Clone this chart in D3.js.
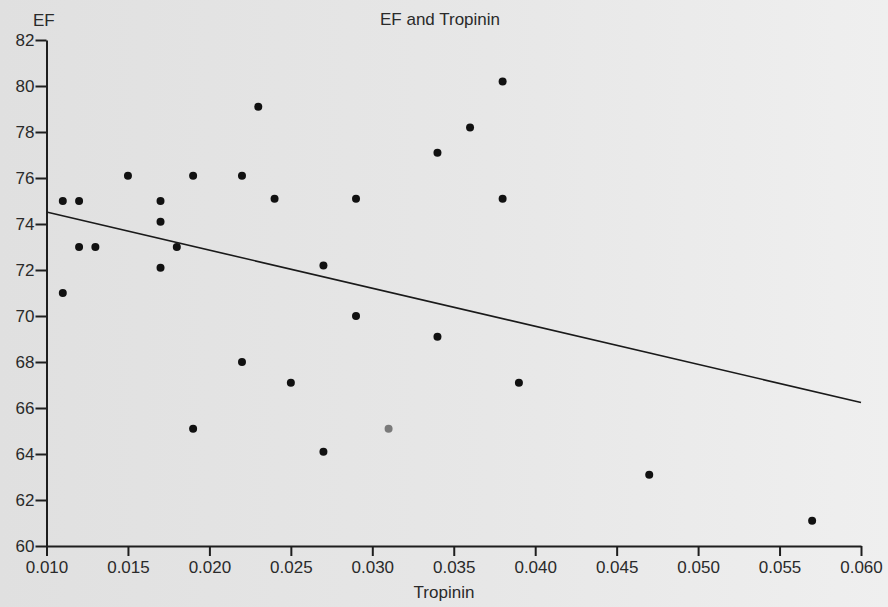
<!DOCTYPE html>
<html>
<head>
<meta charset="utf-8">
<script src="https://cdn.jsdelivr.net/npm/d3@7"></script>
<style>
  html, body { margin: 0; padding: 0; background: #e6e6e6; }
  svg { display: block; }
  text { font-family: "Liberation Sans", Arial, sans-serif; fill: #2a2a2a; }
</style>
</head>
<body>
<svg width="888" height="607"></svg>
<script>
const svg_width = 888;
const svg_height = 607;

// tropinin values (x) and EF values (y)
const tropinin = [
  0.011, 0.011, 0.012, 0.012, 0.013, 0.015, 0.017, 0.017, 0.017, 0.018,
  0.019, 0.019, 0.022, 0.022, 0.023, 0.024, 0.025, 0.027, 0.027, 0.029,
  0.029, 0.031, 0.034, 0.034, 0.036, 0.038, 0.038, 0.039, 0.047, 0.057
];
const ef = [
  71.0, 75.0, 75.0, 73.0, 73.0, 76.1, 75.0, 74.1, 72.1, 73.0,
  76.1, 65.1, 76.1, 68.0, 79.1, 75.1, 67.1, 72.2, 64.1, 75.1,
  70.0, 65.1, 77.1, 69.1, 78.2, 80.2, 75.1, 67.1, 63.1, 61.1
];
// one point (0.031, 65.1) is printed lighter in the original
const grey_point = [21];

// fitted line, end points
const fit_x = [0.010, 0.060];
const fit_y = [74.52, 66.24];

const x_ticks = [0.010, 0.015, 0.020, 0.025, 0.030, 0.035, 0.040, 0.045, 0.050, 0.055, 0.060];
const y_ticks = [60, 62, 64, 66, 68, 70, 72, 74, 76, 78, 80, 82];

const margin = { top: 40, right: 27, bottom: 61, left: 46.5 };
const font_size = "17px";

function drawChart() {
  const svg = d3.select("svg");

  // scanned paper look: slightly darker on the left
  const defs = svg.append("defs");
  const grad = defs.append("linearGradient").attr("id", "paper");
  grad.append("stop").attr("offset", "0%").attr("stop-color", "#e0e0e0");
  grad.append("stop").attr("offset", "55%").attr("stop-color", "#e7e7e7");
  grad.append("stop").attr("offset", "100%").attr("stop-color", "#efefef");
  svg.append("rect")
    .attr("width", svg_width)
    .attr("height", svg_height)
    .attr("fill", "url(#paper)");

  const x = d3.scaleLinear()
    .domain([0.010, 0.060])
    .range([margin.left, svg_width - margin.right]);
  const y = d3.scaleLinear()
    .domain([60, 82])
    .range([svg_height - margin.bottom, margin.top]);

  const x_axis = svg.append("g")
    .attr("transform", `translate(0,${svg_height - margin.bottom})`)
    .call(d3.axisBottom(x).tickValues(x_ticks).tickFormat(d3.format(".3f")).tickSize(10).tickSizeOuter(0));
  const y_axis = svg.append("g")
    .attr("transform", `translate(${margin.left},0)`)
    .call(d3.axisLeft(y).tickValues(y_ticks).tickSize(11).tickSizeOuter(0));

  // style both axes like the print
  [x_axis, y_axis].forEach(function (a) {
    a.select(".domain").attr("stroke", "#1e1e1e").attr("stroke-width", 2);
    a.selectAll(".tick line").attr("stroke", "#1e1e1e").attr("stroke-width", 2);
    a.selectAll(".tick text")
      .attr("fill", "#2a2a2a")
      .style("font-family", '"Liberation Sans", Arial, sans-serif')
      .style("font-size", font_size);
  });
  x_axis.selectAll(".tick text").attr("dy", "0.95em").attr("y", 11);
  y_axis.selectAll(".tick text").attr("x", -12);

  // regression line
  const line = d3.line().x(d => x(d[0])).y(d => y(d[1]));
  svg.append("path")
    .attr("d", line(d3.zip(fit_x, fit_y)))
    .attr("fill", "none")
    .attr("stroke", "#1a1a1a")
    .attr("stroke-width", 1.6);

  // points
  svg.append("g")
    .selectAll("circle")
    .data(d3.zip(tropinin, ef))
    .join("circle")
    .attr("cx", d => x(d[0]))
    .attr("cy", d => y(d[1]))
    .attr("r", 4)
    .attr("fill", (d, i) => grey_point.includes(i) ? "#7a7a7a" : "#111");

  // titles
  svg.append("text")
    .attr("x", 440)
    .attr("y", 25)
    .attr("text-anchor", "middle")
    .style("font-size", font_size)
    .text("EF and Tropinin");
  svg.append("text")
    .attr("x", 33)
    .attr("y", 26)
    .style("font-size", font_size)
    .text("EF");
  svg.append("text")
    .attr("x", 444)
    .attr("y", 598)
    .attr("text-anchor", "middle")
    .style("font-size", font_size)
    .text("Tropinin");
}

drawChart();
</script>
</body>
</html>
